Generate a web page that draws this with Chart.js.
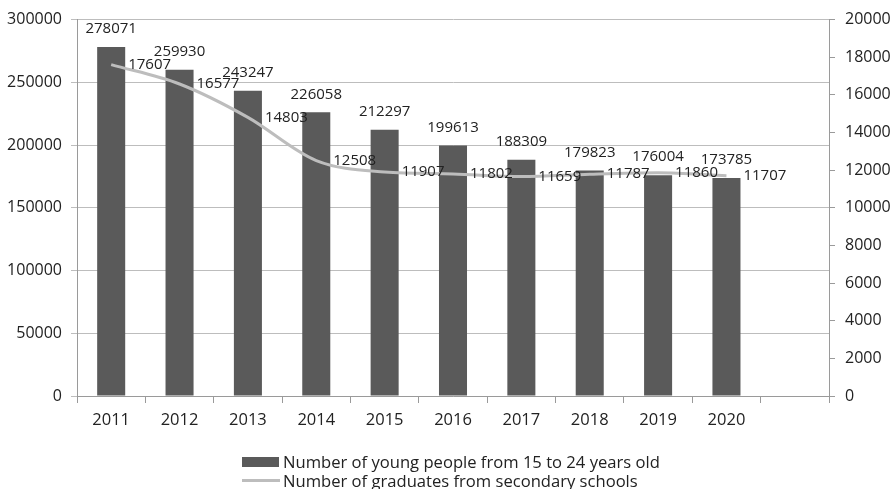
<!DOCTYPE html>
<html>
<head>
<meta charset="utf-8">
<script src="https://cdn.jsdelivr.net/npm/chart.js@4"></script>
<style>
  body { margin: 0; background: #fff; }
  #wrap { position: relative; width: 891px; height: 489px; overflow: hidden; }
  .legend { position: absolute; left: 242px; font: 16.6px "Open Sans", sans-serif; color: #222; white-space: nowrap; }
  .legend .item { display: flex; align-items: center; height: 19px; }
  .legend .box { width: 37px; height: 10px; background: #5a5a5a; margin-right: 4px; }
  .legend .ln { width: 38px; height: 3px; background: #bdbdbd; margin-right: 3px; }
</style>
</head>
<body>
<div id="wrap">
  <canvas id="myChart"></canvas>
  <div class="legend" style="top: 452px;">
    <div class="item"><span class="box"></span>Number of young people from 15 to 24 years old</div>
    <div class="item"><span class="ln"></span>Number of graduates from secondary schools</div>
  </div>
</div>
<script>
const years = ['2011', '2012', '2013', '2014', '2015', '2016', '2017', '2018', '2019', '2020', ''];
const youngPeople = [278071, 259930, 243247, 226058, 212297, 199613, 188309, 179823, 176004, 173785, null];
const graduates = [17607, 16577, 14803, 12508, 11907, 11802, 11659, 11787, 11860, 11707, null];

const FONT = '"Open Sans", sans-serif';
const plain = v => String(v);

// draws the numbers next to bars and line points
const valueLabels = {
    id: 'valueLabels',
    afterDatasetsDraw(chart) {
        const ctx = chart.ctx;
        ctx.save();
        ctx.font = '15px ' + FONT;
        ctx.fillStyle = '#222';
        ctx.textBaseline = 'middle';

        ctx.textAlign = 'center';
        chart.getDatasetMeta(0).data.forEach((bar, i) => {
            if (youngPeople[i] == null) return;
            ctx.fillText(youngPeople[i], bar.x, bar.y - 18);
        });

        ctx.textAlign = 'left';
        chart.getDatasetMeta(1).data.forEach((pt, i) => {
            if (graduates[i] == null) return;
            ctx.fillText(graduates[i], pt.x + 17, pt.y);
        });
        ctx.restore();
    }
};

const ctx = document.getElementById('myChart').getContext('2d');
new Chart(ctx, {
    type: 'bar',
    data: {
        labels: years,
        datasets: [{
            type: 'bar',
            label: 'Number of young people from 15 to 24 years old',
            data: youngPeople,
            backgroundColor: '#5a5a5a',
            borderWidth: 0,
            barPercentage: 0.41,
            categoryPercentage: 1,
            yAxisID: 'y',
            order: 1
        }, {
            type: 'line',
            label: 'Number of graduates from secondary schools',
            data: graduates,
            borderColor: '#bdbdbd',
            borderWidth: 3,
            pointRadius: 0,
            cubicInterpolationMode: 'monotone',
            yAxisID: 'y1',
            order: 0
        }]
    },
    options: {
        responsive: true,
        maintainAspectRatio: false,
        animation: false,
        layout: { padding: { top: 9, left: 0, right: 0, bottom: 0 } },
        plugins: {
            legend: { display: false },
            tooltip: { enabled: false }
        },
        scales: {
            x: {
                offset: true,
                grid: { offset: true, drawOnChartArea: false, tickLength: 7, color: '#9a9a9a' },
                border: { color: '#9a9a9a' },
                ticks: { padding: 7, maxRotation: 0, color: '#222', font: { family: FONT, size: 16.5 } },
                afterFit(s) { s.height = 93; }
            },
            y: {
                position: 'left',
                min: 0,
                max: 300000,
                ticks: { stepSize: 50000, padding: 9, color: '#222', font: { family: FONT, size: 16 }, callback: plain },
                grid: { color: '#bdbdbd', tickLength: 6 },
                border: { color: '#9a9a9a' },
                afterFit(s) { s.width = 77; }
            },
            y1: {
                position: 'right',
                min: 0,
                max: 20000,
                ticks: { stepSize: 2000, padding: 10, color: '#222', font: { family: FONT, size: 16 }, callback: plain },
                grid: { drawOnChartArea: false, tickLength: 6, color: '#9a9a9a' },
                border: { color: '#9a9a9a' },
                afterFit(s) { s.width = 62; }
            }
        }
    },
    plugins: [valueLabels]
});
</script>
</body>
</html>
